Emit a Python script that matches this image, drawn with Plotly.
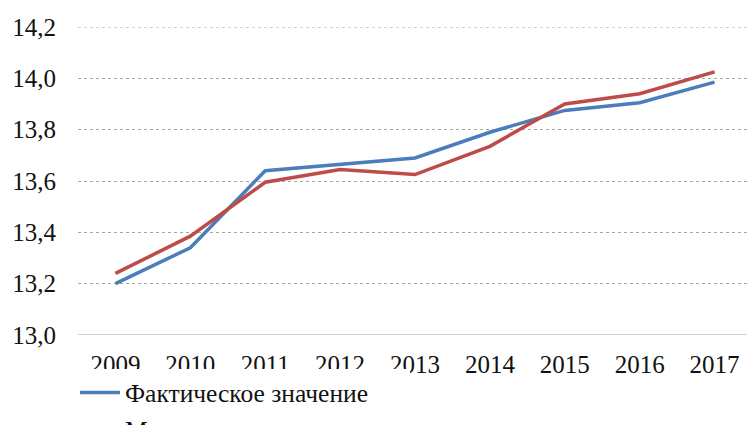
import plotly.graph_objects as go

years = ['2009', '2010', '2011', '2012', '2013', '2014', '2015', '2016', '2017']
actual = [13.20, 13.34, 13.64, 13.665, 13.69, 13.79, 13.875, 13.905, 13.985]
modeled = [13.24, 13.385, 13.595, 13.645, 13.625, 13.735, 13.90, 13.94, 14.025]
y_ticks = [13.0, 13.2, 13.4, 13.6, 13.8, 14.0, 14.2]

font = 'Liberation Serif'

fig = go.Figure()
fig.add_trace(go.Scatter(
    x=years, y=actual, mode='lines', name='Фактическое значение',
    line=dict(color='#4A7EBB', width=3.5)
))
fig.add_trace(go.Scatter(
    x=years, y=modeled, mode='lines', name='Моделируемое значение',
    line=dict(color='#BE4B48', width=3.5)
))

# the page body adds an 8px offset, margins are set with that in mind
fig.update_layout(
    width=755, height=425,
    margin=dict(l=70, r=11, t=19, b=98, autoexpand=False),
    paper_bgcolor='white', plot_bgcolor='white',
    separators=', ',
    font=dict(family=font, size=25, color='#111'),
    showlegend=True,
    legend=dict(
        orientation='h', x=-0.0045, xanchor='left',
        yref='container', y=0.052, yanchor='middle',
        font=dict(family=font, size=25.5, color='#111'),
        itemwidth=40, tracegroupgap=0,
        entrywidth=280, entrywidthmode='pixels'
    ),
    xaxis=dict(
        type='category', range=[-0.5, 8.5], showgrid=False, showline=False,
        zeroline=False, ticks='', ticklabelstandoff=12, automargin=False,
        tickfont=dict(family=font, size=25, color='#111')
    ),
    yaxis=dict(
        range=[13.0, 14.2], tickvals=y_ticks, tickformat='.1f',
        showgrid=True, gridcolor='#A6A6A6', griddash='3px,3px', gridwidth=1,
        zeroline=False, showline=False, ticks='', ticklabelstandoff=21,
        automargin=False, tickfont=dict(family=font, size=25, color='#111')
    ),
    shapes=[
        dict(type='line', xref='paper', yref='y', x0=0, x1=1, y0=13.0, y1=13.0,
             line=dict(color='#A6A6A6', width=1)),
        dict(type='line', xref='paper', yref='y', x0=0, x1=1, y0=14.2, y1=14.2,
             line=dict(color='#A6A6A6', width=1, dash='3px,3px')),
    ]
)

fig.write_html('out.html')
